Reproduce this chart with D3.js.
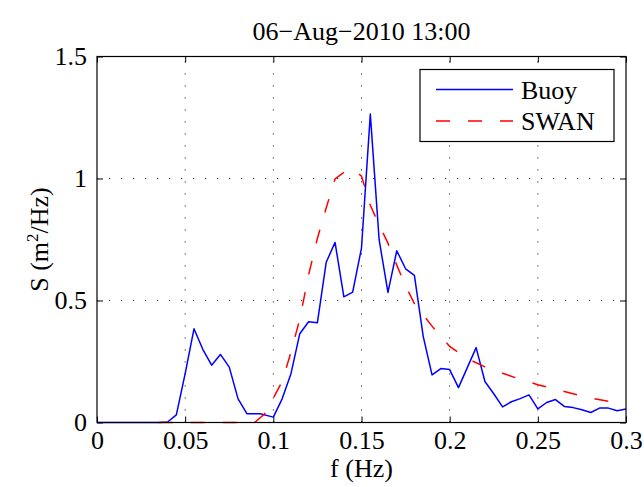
<!DOCTYPE html>
<html>
<head>
<meta charset="utf-8">
<script src="https://cdn.jsdelivr.net/npm/d3@7"></script>
<style>
  body { margin: 0; background: #fff; }
  svg text { font-family: "Liberation Serif", "Times New Roman", serif; fill: #000; }
</style>
</head>
<body>
<div id="chart"></div>
<script>
// buoy spectrum
const buoyF = [0, 0.035, 0.04, 0.045, 0.05, 0.055, 0.06, 0.065, 0.07, 0.075, 0.08, 0.085, 0.0925, 0.1,
  0.105, 0.11, 0.115, 0.12, 0.125, 0.13, 0.135, 0.14, 0.145, 0.15, 0.155, 0.16, 0.165, 0.17, 0.175,
  0.18, 0.185, 0.19, 0.195, 0.2, 0.205, 0.21, 0.215, 0.22, 0.225, 0.23, 0.235, 0.24, 0.245, 0.25,
  0.255, 0.26, 0.265, 0.27, 0.275, 0.28, 0.285, 0.29, 0.295, 0.3];
const buoyS = [0, 0, 0.002, 0.031, 0.2, 0.384, 0.30, 0.235, 0.279, 0.227, 0.097, 0.036, 0.036, 0.022,
  0.097, 0.2, 0.364, 0.413, 0.409, 0.657, 0.738, 0.515, 0.534, 0.715, 1.264, 0.749, 0.533, 0.704, 0.63,
  0.603, 0.353, 0.195, 0.221, 0.217, 0.143, 0.225, 0.307, 0.168, 0.118, 0.064, 0.085, 0.098, 0.113, 0.056,
  0.082, 0.094, 0.066, 0.061, 0.052, 0.041, 0.059, 0.059, 0.048, 0.055];

// SWAN model spectrum
const swanF = [0.035, 0.05, 0.07, 0.085, 0.09, 0.095, 0.1, 0.105, 0.11, 0.115, 0.12, 0.125, 0.13, 0.135,
  0.14, 0.145, 0.15, 0.155, 0.16, 0.165, 0.17, 0.175, 0.18, 0.185, 0.19, 0.2, 0.21, 0.22, 0.23, 0.24,
  0.25, 0.26, 0.27, 0.28, 0.29, 0.3];
const swanS = [0, 0, 0, 0, 0.004, 0.035, 0.1, 0.168, 0.288, 0.424, 0.605, 0.755, 0.88, 0.998, 1.025, 1.04,
  1.01, 0.89, 0.81, 0.735, 0.645, 0.56, 0.487, 0.44, 0.395, 0.312, 0.262, 0.228, 0.202, 0.177, 0.155,
  0.137, 0.118, 0.1, 0.087, 0.08];

const xTicks = [0, 0.05, 0.1, 0.15, 0.2, 0.25, 0.3];
const xTickLabels = ["0", "0.05", "0.1", "0.15", "0.2", "0.25", "0.3"];
const yTicks = [0, 0.5, 1, 1.5];
const yTickLabels = ["0", "0.5", "1", "1.5"];

const width = 644, height = 487;
const pLeft = 97, pRight = 626, pTop = 56.5, pBottom = 422.5;
const fontSize = 26;

const svg = d3.select("#chart").append("svg")
  .attr("width", width)
  .attr("height", height);

const x = d3.scaleLinear().domain([0, 0.3]).range([pLeft, pRight]);
const y = d3.scaleLinear().domain([0, 1.5]).range([pBottom, pTop]);

// grid
const grid = svg.append("g")
  .attr("stroke", "#333")
  .attr("stroke-width", 1)
  .attr("stroke-dasharray", "1.2,10.8");
grid.selectAll(".vg").data(xTicks.slice(1, -1)).enter().append("line")
  .attr("x1", d => x(d)).attr("x2", d => x(d))
  .attr("y1", pBottom).attr("y2", pTop);
grid.selectAll(".hg").data(yTicks.slice(1, -1)).enter().append("line")
  .attr("x1", pLeft).attr("x2", pRight)
  .attr("y1", d => y(d)).attr("y2", d => y(d));

// axes with inward ticks
const fmtX = (d, i) => xTickLabels[i];
const fmtY = (d, i) => yTickLabels[i];

svg.append("g")
  .attr("transform", `translate(0,${pBottom})`)
  .call(d3.axisBottom(x).tickValues(xTicks).tickFormat(fmtX).tickSize(-6).tickPadding(8));
svg.append("g")
  .attr("transform", `translate(0,${pTop})`)
  .call(d3.axisTop(x).tickValues(xTicks).tickFormat("").tickSize(-6));
svg.append("g")
  .attr("transform", `translate(${pLeft},0)`)
  .call(d3.axisLeft(y).tickValues(yTicks).tickFormat(fmtY).tickSize(-6).tickPadding(10));
svg.append("g")
  .attr("transform", `translate(${pRight},0)`)
  .call(d3.axisRight(y).tickValues(yTicks).tickFormat("").tickSize(-6));

svg.selectAll(".domain").remove();
svg.selectAll(".tick line").attr("stroke", "#000").attr("stroke-width", 1);
svg.selectAll(".tick text")
  .attr("font-size", fontSize)
  .attr("font-family", "Liberation Serif, Times New Roman, serif");

// series
const buoyData = buoyF.map((f, i) => [f, buoyS[i]]);
const swanData = swanF.map((f, i) => [f, swanS[i]]);
const line = d3.line().x(d => x(d[0])).y(d => y(d[1]));

svg.append("path")
  .datum(buoyData)
  .attr("d", line)
  .attr("fill", "none")
  .attr("stroke", "#0000ff")
  .attr("stroke-width", 1.5)
  .attr("stroke-linejoin", "round");

svg.append("path")
  .datum(swanData)
  .attr("d", line)
  .attr("fill", "none")
  .attr("stroke", "#ff0000")
  .attr("stroke-width", 1.5)
  .attr("stroke-dasharray", "14,18");

// box
svg.append("rect")
  .attr("x", pLeft).attr("y", pTop)
  .attr("width", pRight - pLeft).attr("height", pBottom - pTop)
  .attr("fill", "none")
  .attr("stroke", "#000")
  .attr("stroke-width", 1.2);

// title and labels
svg.append("text")
  .attr("x", (pLeft + pRight) / 2).attr("y", 40)
  .attr("text-anchor", "middle")
  .attr("font-size", fontSize)
  .text("06\u2212Aug\u22122010 13:00");

svg.append("text")
  .attr("x", (pLeft + pRight) / 2).attr("y", 477)
  .attr("text-anchor", "middle")
  .attr("font-size", fontSize)
  .text("f (Hz)");

const yl = svg.append("text")
  .attr("transform", `translate(48,${(pTop + pBottom) / 2}) rotate(-90)`)
  .attr("text-anchor", "middle")
  .attr("font-size", fontSize);
yl.append("tspan").text("S (m");
yl.append("tspan").attr("font-size", 17).attr("dy", -10).text("2");
yl.append("tspan").attr("dy", 10).text("/Hz)");

// legend
const lg = svg.append("g");
lg.append("rect")
  .attr("x", 420).attr("y", 69.5)
  .attr("width", 194).attr("height", 72)
  .attr("fill", "#fff")
  .attr("stroke", "#000")
  .attr("stroke-width", 1.2);
const legendItems = [
  { name: "Buoy", color: "#0000ff", dash: null, y: 89.5 },
  { name: "SWAN", color: "#ff0000", dash: "14,18", y: 121 }
];
legendItems.forEach(it => {
  lg.append("line")
    .attr("x1", 436).attr("x2", 513)
    .attr("y1", it.y).attr("y2", it.y)
    .attr("stroke", it.color)
    .attr("stroke-width", 1.5)
    .attr("stroke-dasharray", it.dash);
  lg.append("text")
    .attr("x", 521).attr("y", it.y + 9)
    .attr("font-size", fontSize)
    .text(it.name);
});
</script>
</body>
</html>
